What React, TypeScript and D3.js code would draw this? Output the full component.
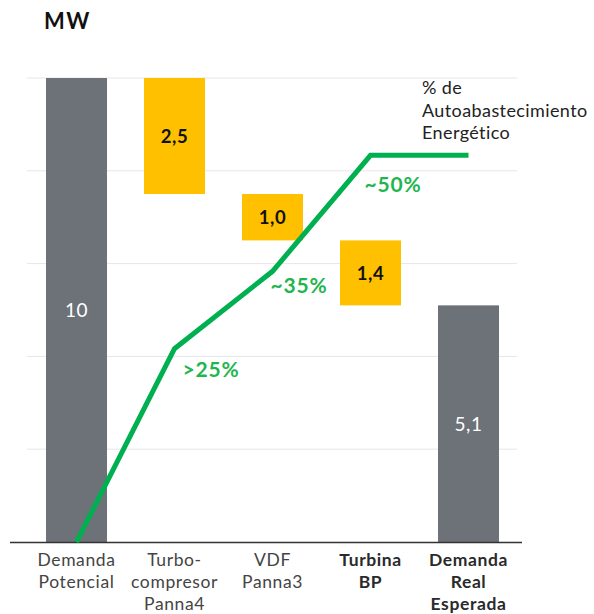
import React from "react";
import * as d3 from "d3";

const categories = ["Demanda Potencial", "Turbo-compresor Panna4", "VDF Panna3", "Turbina BP", "Demanda Real Esperada"];
const categoryLines = [["Demanda", "Potencial"], ["Turbo-", "compresor", "Panna4"], ["VDF", "Panna3"], ["Turbina", "BP"], ["Demanda", "Real", "Esperada"]];
const boldCategory = [false, false, false, true, true];
const barStart = [0, 10, 7.5, 6.5, 0];
const barEnd = [10, 7.5, 6.5, 5.1, 5.1];
const barLabels = ["10", "2,5", "1,0", "1,4", "5,1"];
const barKinds = ["total", "delta", "delta", "delta", "total"];
const yTicks = [2, 4, 6, 8, 10];
const pctValues = [0, 25, 35, 50, 50];
const pctLabels = ["", ">25%", "~35%", "~50%", ""];
const legendLines = ["% de", "Autoabastecimiento", "Energético"];

const W = 594, H = 614;
const FONT = "Lato, 'Open Sans', sans-serif";

export default function App() {
  const x = d3.scalePoint<string>().domain(categories).range([27.5, 517.5]).padding(0.5);
  const y = d3.scaleLinear().domain([0, 10]).range([542, 78]);
  const yp = d3.scaleLinear().domain([0, 60]).range([542, 78]);
  const bw = 61;
  const gray = "#6d7178";
  const yellow = "#ffc000";
  const green = "#00b050";

  const line = d3.line<number>()
    .x((_, i) => x(categories[i])!)
    .y((d) => yp(d));

  const labelOffsets = [[0, 0], [8, 28], [-2, 22], [-6, 37], [0, 0]];

  return (
    <svg width={W} height={H} style={{ position: "absolute", left: 0, top: 0, background: "#fff" }} fontFamily={FONT}>
      <text x={44} y={29} fontSize={22} fontWeight="bold" fill="#111" letterSpacing={1.5}>MW</text>
      {yTicks.map((t) => (
        <line key={t} x1={27} x2={517} y1={y(t)} y2={y(t)} stroke="#e6e6e6" strokeWidth={1} />
      ))}
      {categories.map((c, i) => {
        const top = y(Math.max(barStart[i], barEnd[i]));
        const bot = y(Math.min(barStart[i], barEnd[i]));
        const cx = x(c)!;
        const isTotal = barKinds[i] === "total";
        return (
          <g key={c}>
            <rect x={cx - bw / 2} y={top} width={bw} height={bot - top} fill={isTotal ? gray : yellow} />
            <text x={cx} y={(top + bot) / 2 + 7} textAnchor="middle" fontSize={isTotal ? 19 : 18.5}
              letterSpacing={0.5}
              fontWeight={isTotal ? "normal" : "bold"} fill={isTotal ? "#fff" : "#111"}>{barLabels[i]}</text>
          </g>
        );
      })}
      <line x1={10} x2={522} y1={542.5} y2={542.5} stroke="#333" strokeWidth={1.3} />
      <path d={line(pctValues) || ""} fill="none" stroke={green} strokeWidth={5} strokeLinejoin="miter" />
      {pctLabels.map((l, i) => l ? (
        <text key={i} x={x(categories[i])! + labelOffsets[i][0]} y={yp(pctValues[i]) + labelOffsets[i][1]}
          textAnchor="start" fontSize={21} fontWeight="bold" letterSpacing={0.8} fill="#1fb650">{l}</text>
      ) : null)}
      {legendLines.map((l, i) => (
        <text key={l} x={422} y={94 + i * 22.5} fontSize={18} letterSpacing={0.4} fill="#222">{l}</text>
      ))}
      {categories.map((c, i) => (
        <g key={c + "lab"}>
          {categoryLines[i].map((ln, j) => (
            <text key={j} x={x(c)!} y={566 + j * 22} textAnchor="middle" fontSize={17.5}
              letterSpacing={0.6}
              fontWeight={boldCategory[i] ? "bold" : "normal"} fill={boldCategory[i] ? "#2a2a2a" : "#444"}>{ln}</text>
          ))}
        </g>
      ))}
    </svg>
  );
}
